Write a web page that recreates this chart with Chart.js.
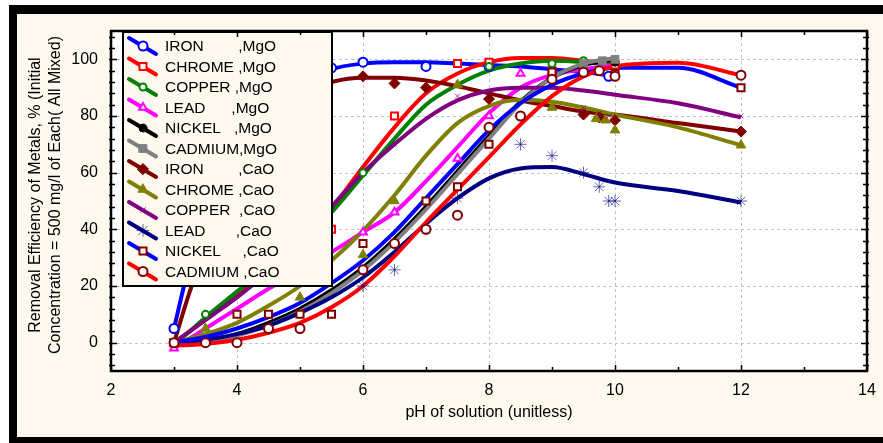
<!DOCTYPE html>
<html><head><meta charset="utf-8">
<script src="https://cdn.jsdelivr.net/npm/chart.js@4.4.1/dist/chart.umd.min.js"></script>
<style>html,body{margin:0;padding:0;background:#fff;}canvas{display:block;}</style>
</head><body>
<canvas id="c" width="883" height="443"></canvas>
<script>
// ---------- DATA ----------
const seriesLabels = [
  "IRON        ,MgO", "CHROME ,MgO", "COPPER ,MgO", "LEAD      ,MgO", "NICKEL   ,MgO", "CADMIUM,MgO",
  "IRON        ,CaO", "CHROME ,CaO", "COPPER  ,CaO", "LEAD       ,CaO", "NICKEL     ,CaO", "CADMIUM ,CaO"
];
const xTicks = [2, 4, 6, 8, 10, 12, 14];
const yTicks = [0, 20, 40, 60, 80, 100];
const xTitle = "pH of solution (unitless)";
const yTitle = ["Removal Efficiency of Metals, % (Initial", "Concentration = 500 mg/l of Each( All Mixed)"];

// fitted curves
const fitPH_MgO = [3, 3.25, 3.5, 4, 4.5, 5, 5.5, 6, 6.5, 7, 7.5, 8, 8.5, 9, 9.5, 10];
const fitPH_CaO = [3, 3.25, 3.5, 4, 4.5, 5, 5.5, 6, 6.5, 7, 7.5, 8, 8.5, 9, 9.5, 10, 11, 12];

const fitIronMgO    = [5, 28, 44, 67, 82, 91, 96.5, 98.5, 99, 99, 98.5, 98, 97.5, 96.5, 95.5, 94];
const fitChromeMgO  = [0, 4, 8, 17, 26, 36, 47.5, 62, 76, 88, 95, 99, 100.5, 100.5, 99.5, 98];
const fitCopperMgO  = [0, 4, 9, 18, 27, 36, 46, 59, 72, 84, 91, 96, 98.5, 99.5, 99, 98];
const fitLeadMgO    = [-2, 1.5, 5, 12, 19, 25.5, 32, 39, 46, 57, 69, 81, 90, 94.5, 96.5, 98];
const fitNickelMgO  = [-1, -0.5, 0.5, 3, 7, 12, 18.5, 26.5, 36.5, 48, 60.5, 73, 85, 93.5, 98, 100];
const fitCadmiumMgO = [-1, -0.8, 0, 2.5, 6, 11, 17.5, 25.5, 35.5, 47, 59.5, 72, 84.5, 93.5, 98.5, 100.5];

const fitIronCaO    = [0, 18, 33, 60, 78, 88, 92, 93.5, 93.5, 92.5, 90.5, 88, 85.5, 83.5, 81.5, 80.5, 77.5, 74.5];
const fitChromeCaO  = [0, 1.5, 3, 7, 13, 20, 29, 39.5, 52, 66, 77.5, 83.5, 85.7, 85, 83, 80.5, 76, 69.7];
const fitCopperCaO  = [0, 4, 8, 16, 25, 36, 48, 60, 70, 79, 85.5, 89, 90, 90, 89, 87.5, 84.5, 79.5];
const fitLeadCaO    = [0, 0.5, 1, 3, 6, 10.5, 16, 23, 32, 42, 51, 58, 61.5, 62, 59.5, 56.5, 53.5, 49.5];
const fitNickelCaO  = [0, 1, 2, 5, 9, 14, 21, 29, 39, 51, 63, 75, 84.5, 91, 95, 97, 97, 90];
const fitCadmiumCaO = [-1, -0.8, -0.5, 1, 3.5, 7, 12.5, 20, 30.5, 42.5, 54, 65.5, 77, 87, 94, 97.5, 98.8, 94.4];

// measured points [pH, %]
const ptsIronMgO    = [[3,5],[5.5,97],[6,99],[7,97.5],[8,97.5],[9.9,94]];
const ptsChromeMgO  = [[3,0],[5.5,40],[6.5,80],[7.5,98.5],[8,99],[9,96],[10,98]];
const ptsCopperMgO  = [[3,0],[3.5,10],[6,60],[8,97.5],[9,98.5],[9.5,99.5]];
const ptsLeadMgO    = [[3,-2],[6,39],[6.5,46],[7.5,65],[8,80],[8.5,95]];
const ptsNickelMgO  = [[3,0],[9.5,97.5],[10,99]];
const ptsCadmiumMgO = [[3,0],[9.5,98.5],[9.8,99.5],[10,100]];
const ptsIronCaO    = [[6,94],[6.5,91.5],[7,90],[8,86],[9.5,80.5],[9.75,79.5],[10,78.5],[12,74.5]];
const ptsChromeCaO  = [[3,0],[3.5,5],[5,16],[6,31],[6.5,50],[7.5,91],[9,83],[9.7,79],[9.85,78.5],[10,75],[12,69.7]];
const ptsCopperCaO  = [[6.5,70],[7.5,87],[9.5,83],[9.75,81],[9.9,80],[12,80]];
const ptsLeadCaO    = [[6,20],[6.5,25.7],[7,40],[7.5,51],[8.5,70],[9,66],[9.5,60],[9.75,55],[9.9,50],[10,50],[12,50]];
const ptsNickelCaO  = [[3,0],[4,10],[4.5,10],[5,10],[5.5,10],[6,35],[7,50],[7.5,55],[8,70],[9,95.5],[10,95],[12,90]];
const ptsCadmiumCaO = [[3,0],[3.5,0],[4,0],[4.5,5],[5,5],[6,25.7],[6.5,35],[7,40],[7.5,45],[8,76],[8.5,80],[9,93],[9.5,95.4],[9.75,96],[10,94],[12,94.4]];

// ---------- STYLES ----------
const FONT = '"Liberation Sans", Arial, sans-serif';
const fits = [fitIronMgO, fitChromeMgO, fitCopperMgO, fitLeadMgO, fitNickelMgO, fitCadmiumMgO,
              fitIronCaO, fitChromeCaO, fitCopperCaO, fitLeadCaO, fitNickelCaO, fitCadmiumCaO];
const fitXs = [fitPH_MgO, fitPH_MgO, fitPH_MgO, fitPH_MgO, fitPH_MgO, fitPH_MgO,
               fitPH_CaO, fitPH_CaO, fitPH_CaO, fitPH_CaO, fitPH_CaO, fitPH_CaO];
const pts = [ptsIronMgO, ptsChromeMgO, ptsCopperMgO, ptsLeadMgO, ptsNickelMgO, ptsCadmiumMgO,
             ptsIronCaO, ptsChromeCaO, ptsCopperCaO, ptsLeadCaO, ptsNickelCaO, ptsCadmiumCaO];
const lineColors = ['#0000ff','#ff0000','#008000','#ff00ff','#000000','#808080',
                    '#800000','#808000','#800080','#000080','#0000ff','#ff0000'];
const markers = [
  {style:'circle',   r:4.5, fill:'#ffffff', stroke:'#0000ff', bw:2},
  {style:'rect',     r:5,   fill:'#ffffff', stroke:'#ff0000', bw:2},
  {style:'circle',   r:3.5, fill:'#ffffff', stroke:'#008000', bw:2},
  {style:'triangle', r:4.5, fill:'#ffffff', stroke:'#ff00ff', bw:2},
  {style:'circle',   r:4,   fill:'#000000', stroke:'#000000', bw:1},
  {style:'rect',     r:5.5, fill:'#808080', stroke:'#808080', bw:1},
  {style:'rectRot',  r:5.5, fill:'#800000', stroke:'#800000', bw:1},
  {style:'triangle', r:5.5, fill:'#808000', stroke:'#808000', bw:1},
  {style:'crossRot', r:3.5, fill:'#800080', stroke:'rgba(128,0,128,0.75)', bw:1},
  {style:'star',     r:6,   fill:'#000080', stroke:'rgba(0,0,128,0.6)', bw:1},
  {style:'rect',     r:5,   fill:'#ffffff', stroke:'#800000', bw:2},
  {style:'circle',   r:4.5, fill:'#ffffff', stroke:'#800000', bw:2}
];

const datasets = [];
fits.forEach((f, i) => {
  datasets.push({
    type:'line', label: seriesLabels[i],
    data: f.map((v, k) => ({x: fitXs[i][k], y: v})),
    borderColor: lineColors[i], borderWidth: 4, pointRadius: 0,
    cubicInterpolationMode: 'monotone', fill: false, order: 100 - i
  });
});
pts.forEach((p, i) => {
  const m = markers[i];
  datasets.push({
    type:'line', label: seriesLabels[i] + ' pts', showLine:false,
    data: p.map(a => ({x:a[0], y:a[1]})),
    pointStyle: m.style, pointRadius: m.r, pointBackgroundColor: m.fill,
    pointBorderColor: m.stroke, pointBorderWidth: m.bw, order: 50 - i
  });
});

// ---------- PLUGINS ----------
const decor = {
  id: 'decor',
  beforeDraw(chart) {
    const {ctx, chartArea: a} = chart;
    ctx.save();
    ctx.fillStyle = '#ffffff'; ctx.fillRect(0, 0, 883, 443);
    ctx.fillStyle = '#000000'; ctx.fillRect(9, 5, 874, 438);
    ctx.fillStyle = '#fdf9ee'; ctx.fillRect(17, 14, 866, 423);
    ctx.fillStyle = '#ffffff'; ctx.fillRect(a.left, a.top, a.right - a.left, a.bottom - a.top);
    // titles
    ctx.fillStyle = '#000'; ctx.font = '16px ' + FONT;
    ctx.textAlign = 'center'; ctx.textBaseline = 'middle';
    ctx.fillText(xTitle, (a.left + a.right) / 2, 413);
    yTitle.forEach((t, k) => {
      ctx.save(); ctx.translate(36 + k * 20, 195); ctx.rotate(-Math.PI / 2);
      ctx.fillText(t, 0, 0); ctx.restore();
    });
    // dashed grid
    const xs = chart.scales.x, ys = chart.scales.y;
    ctx.strokeStyle = '#c4c4c4'; ctx.lineWidth = 1; ctx.setLineDash([3, 3]);
    xTicks.forEach(v => { if (v > xs.min && v < xs.max) { const px = Math.round(xs.getPixelForValue(v)) + 0.5;
      ctx.beginPath(); ctx.moveTo(px, a.top); ctx.lineTo(px, a.bottom); ctx.stroke(); }});
    yTicks.forEach(v => { const py = Math.round(ys.getPixelForValue(v)) + 0.5;
      ctx.beginPath(); ctx.moveTo(a.left, py); ctx.lineTo(a.right, py); ctx.stroke(); });
    ctx.restore();
  },
  afterDatasetsDraw(chart) {
    const {ctx} = chart;
    ctx.save();
    // legend box
    ctx.fillStyle = '#fdf9ee'; ctx.fillRect(123, 32, 209, 254);
    ctx.strokeStyle = '#000'; ctx.lineWidth = 2; ctx.strokeRect(123, 32, 209, 254);
    seriesLabels.forEach((lab, i) => {
      const cy = 46 + i * 20.5;
      ctx.strokeStyle = lineColors[i]; ctx.lineWidth = 4; ctx.lineCap = 'round';
      ctx.beginPath(); ctx.moveTo(129, cy - 8); ctx.lineTo(156, cy + 8); ctx.stroke();
      const m = markers[i];
      ctx.fillStyle = m.fill; ctx.strokeStyle = m.stroke; ctx.lineWidth = m.bw;
      Chart.helpers.drawPoint(ctx, {pointStyle: m.style, radius: m.r, borderWidth: m.bw, rotation: 0}, 143, cy);
      ctx.fillStyle = '#000'; ctx.font = '15.5px ' + FONT;
      ctx.textAlign = 'left'; ctx.textBaseline = 'middle';
      ctx.fillText(lab, 165, cy + 1);
    });
    ctx.restore();
  },
  afterDraw(chart) {
    const {ctx, chartArea: a} = chart;
    const xs = chart.scales.x, ys = chart.scales.y;
    ctx.save();
    ctx.strokeStyle = '#000'; ctx.lineWidth = 1.5;
    // ticks on all sides (inward)
    for (let v = 2; v <= 14; v += 1) {
      const px = Math.round(xs.getPixelForValue(v)) + 0.5; const L = (v % 2 === 0) ? 6 : 4;
      ctx.beginPath(); ctx.moveTo(px, a.bottom); ctx.lineTo(px, a.bottom - L);
      ctx.moveTo(px, a.top); ctx.lineTo(px, a.top + L); ctx.stroke();
    }
    for (let v = -8; v <= 108; v += 4) {
      const py = Math.round(ys.getPixelForValue(v)) + 0.5; const L = (v % 20 === 0) ? 6 : 4;
      ctx.beginPath(); ctx.moveTo(a.left - 2, py); ctx.lineTo(a.left + L, py);
      ctx.moveTo(a.right + 2, py); ctx.lineTo(a.right - L, py); ctx.stroke();
    }
    ctx.lineWidth = 2.5;
    ctx.strokeRect(a.left, a.top, a.right - a.left, a.bottom - a.top);
    ctx.restore();
  }
};

new Chart(document.getElementById('c'), {
  data: { datasets },
  options: {
    responsive: false, animation: false, devicePixelRatio: 1,
    layout: { padding: { left: 51, right: 16, top: 31, bottom: 32 } },
    plugins: { legend: { display: false }, tooltip: { enabled: false } },
    scales: {
      x: { type: 'linear', min: 2, max: 14,
        grid: { display: false }, border: { display: false },
        afterBuildTicks: s => { s.ticks = xTicks.map(v => ({ value: v })); },
        afterFit: s => { s.height = 40; },
        ticks: { font: { family: FONT, size: 16 }, color: '#000', padding: 2, maxRotation: 0, autoSkip: false } },
      y: { type: 'linear', min: -10, max: 110,
        grid: { display: false }, border: { display: false },
        afterBuildTicks: s => { s.ticks = yTicks.map(v => ({ value: v })); },
        afterFit: s => { s.width = 60; },
        ticks: { font: { family: FONT, size: 16 }, color: '#000', padding: 5 } }
    }
  },
  plugins: [decor]
});
</script>
</body></html>
